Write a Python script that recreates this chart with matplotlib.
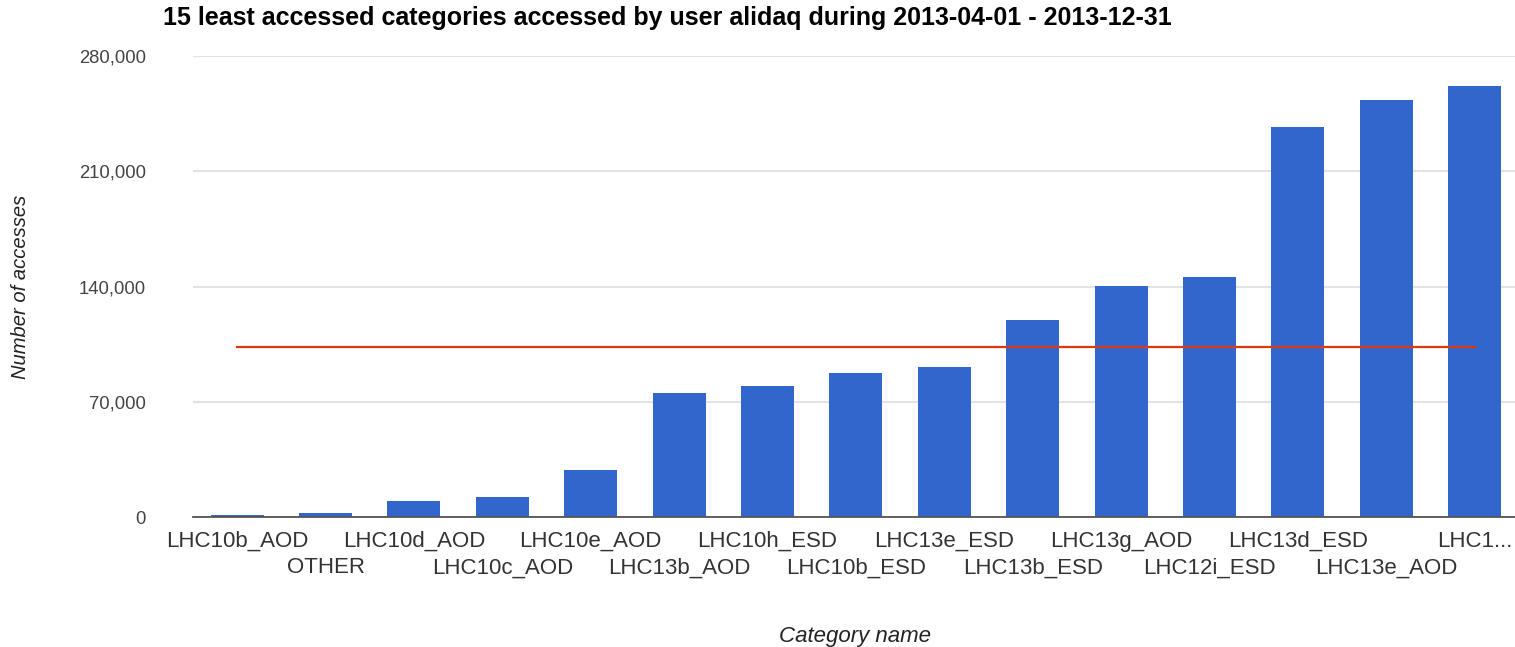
import matplotlib.pyplot as plt
import numpy as np

categories = [
    "LHC10b_AOD", "OTHER", "LHC10d_AOD", "LHC10c_AOD", "LHC10e_AOD",
    "LHC13b_AOD", "LHC10h_ESD", "LHC10b_ESD", "LHC13e_ESD", "LHC13b_ESD",
    "LHC13g_AOD", "LHC12i_ESD", "LHC13d_ESD", "LHC13e_AOD", "LHC1...",
]
accesses = [
    1500, 2500, 9700, 12100, 28700,
    75500, 79700, 87600, 91300, 119600,
    140300, 145800, 236700, 253100, 262000,
]
yticks = [0, 70000, 140000, 210000, 280000]

W, H = 1515, 647
fig = plt.figure(figsize=(W / 100, H / 100), dpi=100)
ax = fig.add_axes([193 / W, 1 - 517 / H, 1324 / W, 461 / H])
plt.rcParams["font.family"] = ["Liberation Sans", "DejaVu Sans"]

x = np.arange(len(categories))
ax.bar(x, accesses, width=0.6, color="#3366CC", zorder=2)
avg = np.mean(accesses)
ax.plot([x[0], x[-1]], [avg, avg], color="#DC3912", lw=1.6, zorder=3)

ax.set_xlim(-0.5, len(categories) - 0.52)
ax.set_ylim(0, 280000)
ax.set_yticks(yticks)
ax.set_yticklabels([f"{v:,}" for v in yticks], family="Liberation Sans",
                   fontsize=13.3, color="#444444")
ax.grid(axis="y", color="#E3E3E3", lw=1.5, zorder=0)
ax.tick_params(axis="y", length=0, pad=34)

# staggered category labels: even ones on the first row, odd ones below
ax.set_xticks(x[::2])
ax.set_xticklabels(categories[::2], family="Liberation Sans", fontsize=16,
                   color="#333333")
ax.set_xticks(x[1::2], minor=True)
ax.set_xticklabels(categories[1::2], minor=True, family="Liberation Sans",
                   fontsize=16, color="#333333")
ax.tick_params(axis="x", which="major", length=0, pad=10)
ax.tick_params(axis="x", which="minor", length=0, pad=29)

for s in ["top", "right", "left"]:
    ax.spines[s].set_visible(False)
ax.spines["bottom"].set_color("#555555")
ax.spines["bottom"].set_linewidth(1.3)
ax.spines["bottom"].set_zorder(4)

ax.set_ylabel("Number of accesses", family="Liberation Sans", style="italic",
              fontsize=14.5, color="#222222")
ax.yaxis.set_label_coords((30 - 193) / 1324, 0.5)
ax.set_xlabel("Category name", family="Liberation Sans", style="italic",
              fontsize=16, color="#222222")
ax.xaxis.set_label_coords(0.5, (517 - 626) / 461)

fig.text(163 / W, 1 - 18 / H,
         "15 least accessed categories accessed by user alidaq during 2013-04-01 - 2013-12-31",
         family="Liberation Sans", fontweight="bold", fontsize=18,
         ha="left", va="center", color="#000000")

fig.savefig("out.png", dpi=100)
